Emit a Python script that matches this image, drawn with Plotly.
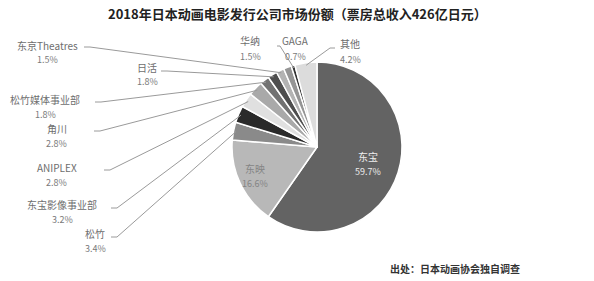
import math
import plotly.graph_objects as go

labels = ["东宝", "东映", "松竹", "东宝影像事业部", "ANIPLEX", "角川", "松竹媒体事业部",
          "日活", "东京Theatres", "华纳", "GAGA", "其他"]
values = [59.7, 16.6, 3.4, 3.2, 2.8, 2.8, 1.8, 1.8, 1.5, 1.5, 0.7, 4.2]
pct_text = ["59.7%", "16.6%", "3.4%", "3.2%", "2.8%", "2.8%", "1.8%", "1.8%", "1.5%", "1.5%", "0.7%", "4.2%"]
colors = ["#636363", "#b8b8b8", "#8a8a8a", "#2a2a2a", "#e0e0e0", "#a9a9a9", "#727272",
          "#4e4e4e", "#b3b3b3", "#959595", "#333333", "#dcdcdc"]

W, H = 594, 281
CX, CY, R = 317, 147, 85

def px(x):
    return x / W

def py(y):
    return 1 - y / H

fig = go.Figure(go.Pie(
    labels=labels, values=values, sort=False, direction="clockwise", rotation=0,
    marker=dict(colors=colors, line=dict(color="white", width=1.5)),
    textinfo="none", hoverinfo="label+percent", showlegend=False,
    domain=dict(x=[px(CX - R), px(CX + R)], y=[py(CY + R), py(CY - R)]),
))

# outside label layout: name centre, start of leader line, first-segment direction (pixels)
outside = {
    "松竹": ((95, 233), (111, 237), (6, 0)),
    "东宝影像事业部": ((62, 204), (111, 208), (6, 0)),
    "ANIPLEX": ((57, 167), (104, 170), (6, 0)),
    "角川": ((57, 128), (94, 131), (6, 0)),
    "松竹媒体事业部": ((45, 99), (95, 102), (6, 0)),
    "日活": ((147, 67), (161, 71), (6, 0)),
    "东京Theatres": ((47, 45), (84, 47), (6, 0)),
    "华纳": ((250, 41), None, None),
    "GAGA": ((295, 41), (277, 46), (3, 0)),
    "其他": ((350, 44), (335, 48), (-5, 0)),
}
inside = {"东宝": (0.63, "#eeeeee"), "东映": (0.8, "#858585")}

annotations = []
shapes = []
total = sum(values)
cum = 0.0
label_font = "Noto Sans CJK SC, Noto Sans, sans-serif"

def text_ann(x, y, text, size, color):
    return dict(x=px(x), y=py(y), xref="paper", yref="paper", text=text,
                xanchor="center", yanchor="middle", showarrow=False,
                font=dict(size=size, color=color, family=label_font))

for lab, v, p in zip(labels, values, pct_text):
    mid = (cum + v / 2) / total * 2 * math.pi
    cum += v
    if lab in inside:
        f, col = inside[lab]
        tx = CX + f * R * math.sin(mid)
        ty = CY - f * R * math.cos(mid)
        annotations.append(text_ann(tx, ty - 7, lab, 10, col))
        annotations.append(text_ann(tx, ty + 8, p, 9, col))
        continue
    (lx, ly), start, seg = outside[lab]
    annotations.append(text_ann(lx, ly, lab, 10, "#6e6e6e"))
    annotations.append(text_ann(lx, ly + 15, p, 9, "#7a7a7a"))
    if start is not None:
        ex = CX + 0.97 * R * math.sin(mid)
        ey = CY - 0.97 * R * math.cos(mid)
        sx, sy = start
        path = (f"M {px(sx)} {py(sy)} L {px(sx + seg[0])} {py(sy + seg[1])} "
                f"L {px(ex)} {py(ey)}")
        shapes.append(dict(type="path", path=path, xref="paper", yref="paper",
                           line=dict(color="#9a9a9a", width=1)))

annotations.append(text_ann(W / 2, 14, "<b>2018年日本动画电影发行公司市场份额（票房总收入426亿日元）</b>",
                            13, "#222222"))
annotations.append(text_ann(455, 268, "<b>出处：日本动画协会独自调查</b>", 10, "#333333"))

fig.update_layout(
    width=W, height=H, margin=dict(l=0, r=0, t=0, b=0),
    paper_bgcolor="white", plot_bgcolor="white",
    annotations=annotations, shapes=shapes,
)
fig.write_html("out.html")
